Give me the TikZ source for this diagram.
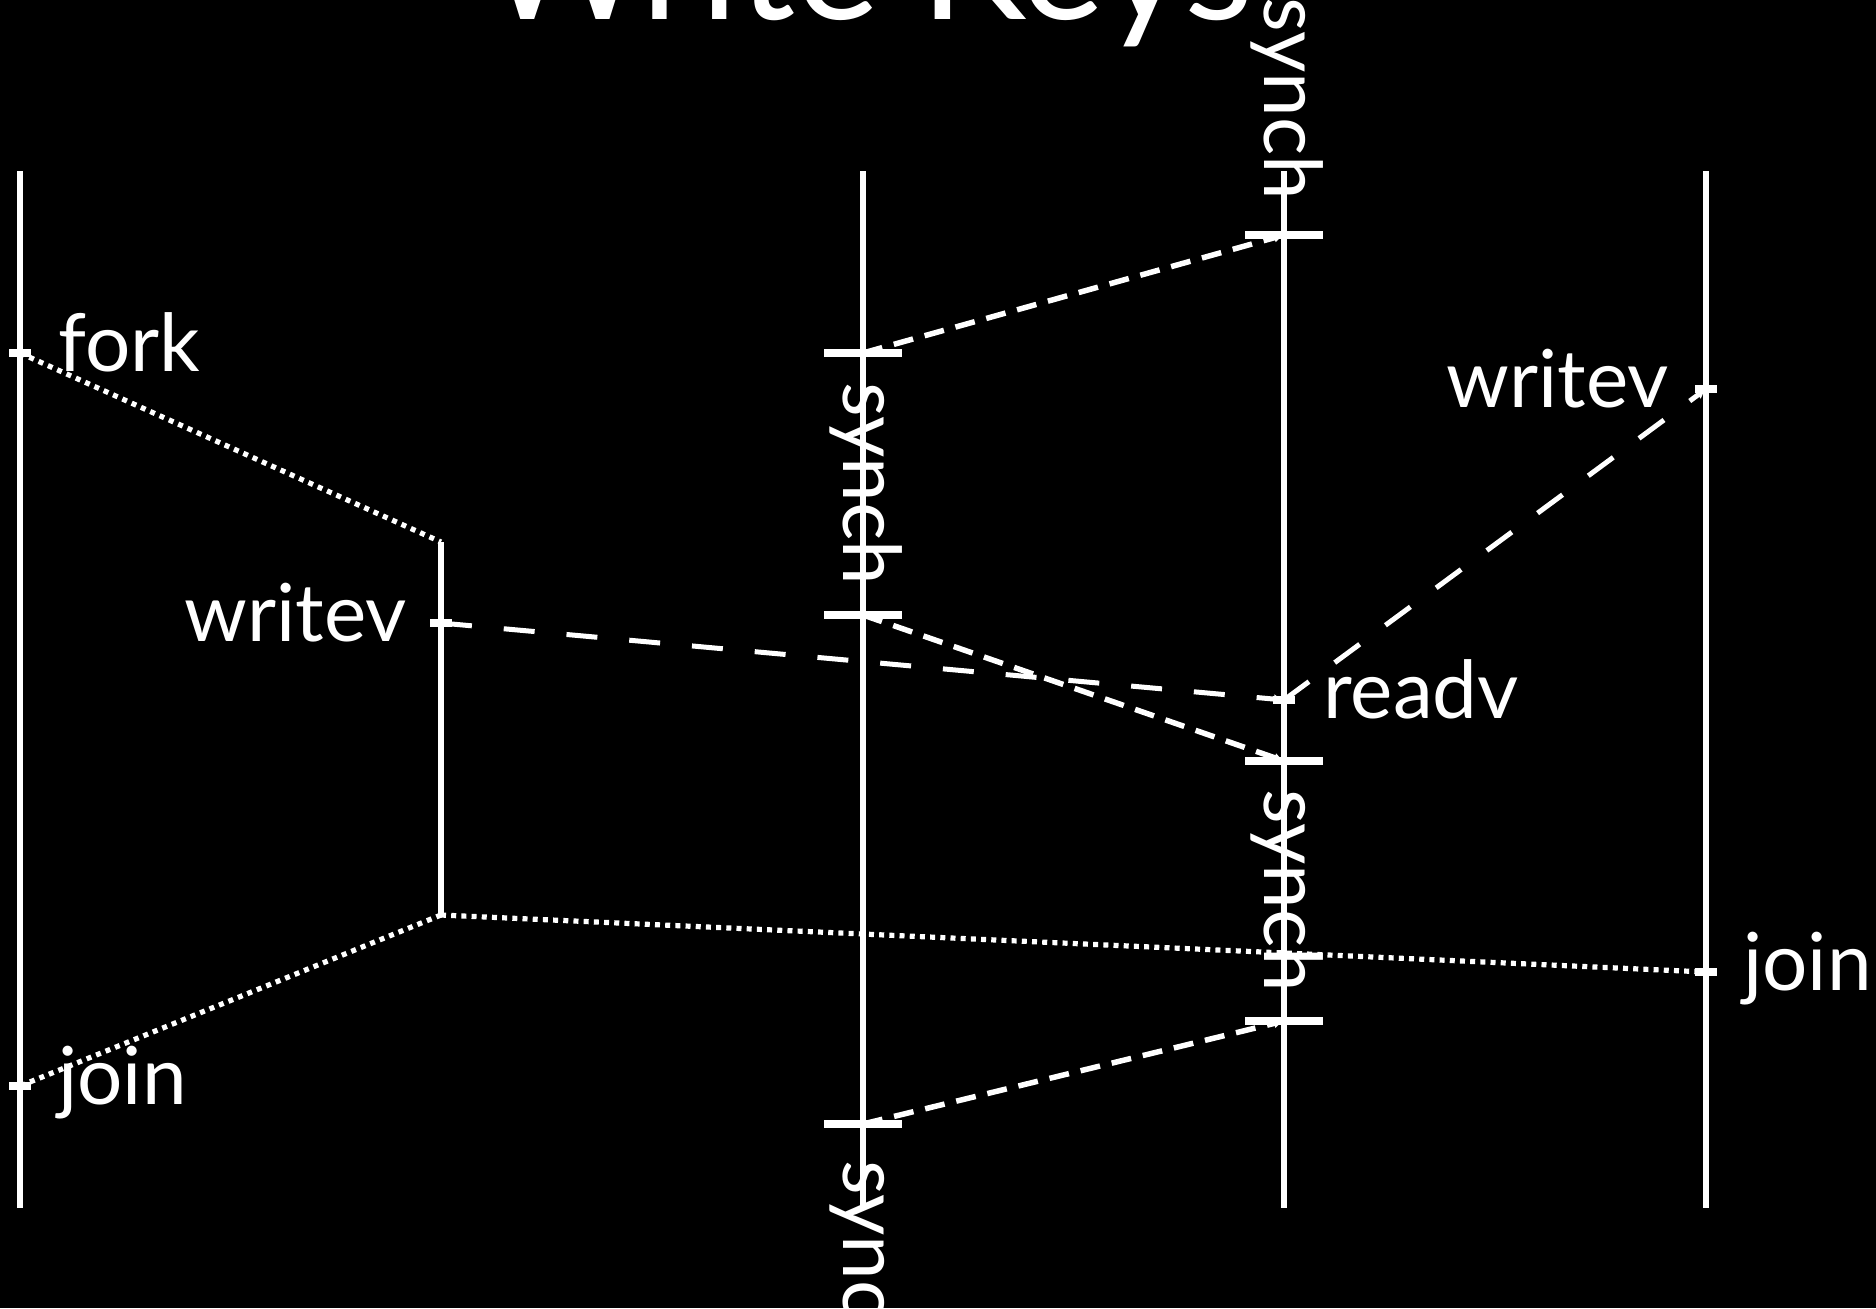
\documentclass[tikz,border=0pt]{standalone}
\usepackage{fontspec}
\setmainfont{Lato}
\usetikzlibrary{arrows.meta}
\tikzset{
  life/.style={draw=white, line width=2.7pt},
  evtick/.style={draw=white, line width=4.3pt},
  synchtick/.style={draw=white, line width=3.8pt},
  dotconn/.style={draw=white, line width=2.6pt, dash pattern=on 2.5pt off 2.6pt},
  sdash/.style={draw=white, line width=2.75pt, dash pattern=on 10pt off 6pt, -{Latex[length=5pt,width=5pt]}},
  ldash/.style={draw=white, line width=2.5pt, dash pattern=on 15.5pt off 16pt, -{Latex[length=5pt,width=5pt]}},
  lbl/.style={text=white, inner sep=0pt, font=\fontsize{40pt}{40pt}\selectfont},
  synchlbl/.style={lbl, rotate=-90, anchor=base},
}
\begin{document}
\begin{tikzpicture}[x=0.5pt,y=-0.5pt]
\useasboundingbox (0,0) rectangle (1876,1308);
\clip (0,0) rectangle (1876,1308);
\fill[black] (0,0) rectangle (1876,1308);

% title
\node[text=white, inner sep=0pt, anchor=base, font=\fontsize{80pt}{80pt}\selectfont] (title) at (868,19) {Write Keys};

% lifeline ends
\coordinate (l1t) at (20,171);  \coordinate (l1b) at (20,1208);
\coordinate (l2t) at (441,542); \coordinate (l2b) at (441,915);
\coordinate (l3t) at (863,171); \coordinate (l3b) at (863,1208);
\coordinate (l4t) at (1284,171); \coordinate (l4b) at (1284,1208);
\coordinate (l5t) at (1706,171); \coordinate (l5b) at (1706,1208);

% events
\coordinate (fork) at (20,353);
\coordinate (joina) at (20,1086);
\coordinate (wra) at (441,623);
\coordinate (rd) at (1284,700);
\coordinate (wrb) at (1706,389);
\coordinate (joinb) at (1706,972);

% synch ticks
\coordinate (sya) at (863,353);
\coordinate (syb) at (863,615);
\coordinate (syc) at (863,1124);
\coordinate (sza) at (1284,235);
\coordinate (szb) at (1284,761);
\coordinate (szc) at (1284,1021);

% lifelines
\draw[life] (l1t) -- (l1b);
\draw[life] (l2t) -- (l2b);
\draw[life] (l3t) -- (l3b);
\draw[life] (l4t) -- (l4b);
\draw[life] (l5t) -- (l5b);

% dotted fork/join connectors
\draw[dotconn] (fork) -- (l2t);
\draw[dotconn] (l2b) -- (joina);
\draw[dotconn] (l2b) -- (joinb);

% synch connectors
\draw[sdash] (sya) -- (sza);
\draw[sdash] (syb) -- (szb);
\draw[sdash] (syc) -- (szc);

% write/read connectors
\draw[ldash] (wra) -- (rd);
\draw[ldash] (rd) -- (wrb);

% event ticks
\foreach \p in {fork,joina,wra,rd,wrb,joinb}
  \draw[evtick] ([xshift=-5.5pt]\p) -- ([xshift=5.5pt]\p);
% synch ticks
\foreach \p in {sya,syb,syc,sza,szb,szc}
  \draw[synchtick] ([xshift=-19.5pt]\p) -- ([xshift=19.5pt]\p);

% labels (baseline 18px below the event tick)
\node[lbl, anchor=base west] (tfork) at (58,371) {fork};
\node[lbl, anchor=base west] (tjoina) at (58,1104) {join};
\node[lbl, anchor=base east] (twra) at (407,641) {writev};
\node[lbl, anchor=base west] (trd) at (1323,718) {readv};
\node[lbl, anchor=base east] (twrb) at (1669,407) {writev};
\node[lbl, anchor=base west] (tjoinb) at (1743,990) {join};

% synch labels
\node[synchlbl] (tsza) at (1264,99) {synch};
\node[synchlbl] (tsyb) at (843,484) {synch};
\node[synchlbl] (tszb) at (1264,891) {synch};
\node[synchlbl] (tsyc) at (843,1262) {synch};
\end{tikzpicture}
\end{document}
